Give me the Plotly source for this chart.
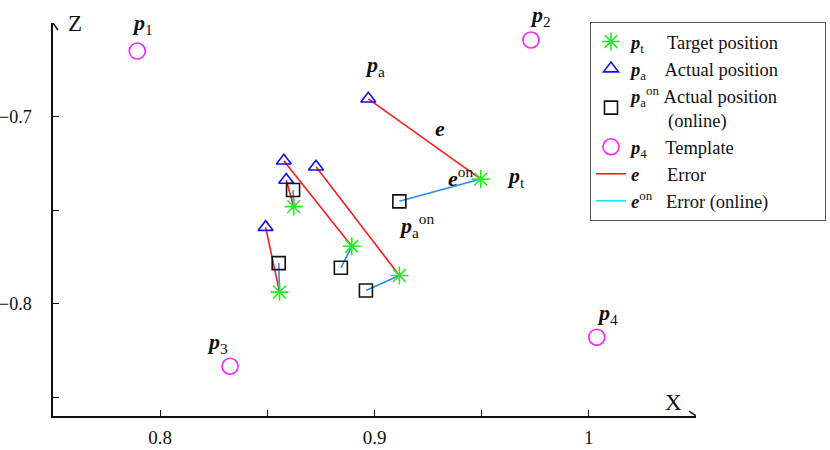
import plotly.graph_objects as go

# ---- data ----
target_x = [0.9496, 0.8894, 0.9116, 0.8623, 0.8557]
target_z = [-0.7334, -0.7693, -0.7849, -0.7481, -0.7938]
actual_x = [0.8971, 0.8577, 0.8727, 0.8588, 0.8492]
actual_z = [-0.6905, -0.7236, -0.7268, -0.7339, -0.7591]
online_x = [0.9116, 0.8843, 0.8960, 0.8620, 0.8553]
online_z = [-0.7453, -0.7808, -0.7929, -0.7392, -0.7783]
template_x = [0.7893, 0.9730, 0.8326, 1.0037]
template_z = [-0.6650, -0.6591, -0.8334, -0.8179]
template_labels = ["1", "2", "3", "4"]

x_tickvals = [0.8, 0.85, 0.9, 0.95, 1.0]
x_ticktext = ["0.8", "", "0.9", "", "1"]
z_tickvals = [-0.7, -0.75, -0.8, -0.85]
z_ticktext = ["\u22120.7", "", "\u22120.8", ""]
x_range = [0.75, 1.05]
z_range = [-0.86, -0.65]

FONT = "Liberation Serif"
NB = "&nbsp;"

W, H = 830, 450


def segs(ax, az, bx, bz):
    xs, zs = [], []
    for a, b, c, d in zip(ax, az, bx, bz):
        xs += [a, c, None]
        zs += [b, d, None]
    return xs, zs


fig = go.Figure()

ex, ez = segs(actual_x, actual_z, target_x, target_z)
fig.add_trace(go.Scatter(x=ex, y=ez, mode="lines", line=dict(color="#f81c1c", width=1.6),
                         name="<b><i>e</i></b>" + NB * 6 + "Error", legendrank=5))
ox, oz = segs(online_x, online_z, target_x, target_z)
fig.add_trace(go.Scatter(x=ox, y=oz, mode="lines", line=dict(color="#2a8cf0", width=1.6),
                         showlegend=False, hoverinfo="skip"))
fig.add_trace(go.Scatter(x=[None], y=[None], mode="lines", line=dict(color="#18e6ff", width=1.6),
                         name="<b><i>e</i></b><sup>on</sup>" + NB * 3 + "Error (online)" + NB * 11,
                         legendrank=6))

fig.add_trace(go.Scatter(x=target_x, y=target_z, mode="markers",
                         marker=dict(symbol="asterisk-open", size=15, color="#22ee22",
                                     line=dict(color="#22ee22", width=1.6)),
                         name="<b><i>p</i></b><sub>t</sub>" + NB * 5 + "Target position",
                         legendrank=1))
fig.add_trace(go.Scatter(x=actual_x, y=actual_z, mode="markers",
                         marker=dict(symbol="triangle-up-open", size=13, color="#1010ee",
                                     line=dict(color="#1010ee", width=1.6)),
                         name="<b><i>p</i></b><sub>a</sub>" + NB * 4 + "Actual position",
                         legendrank=2))
fig.add_trace(go.Scatter(x=online_x, y=online_z, mode="markers",
                         marker=dict(symbol="square-open", size=13, color="#111111",
                                     line=dict(color="#111111", width=1.6)),
                         name="<b><i>p</i></b><sub>a</sub><sup>on</sup>" + NB + "Actual position<br>"
                              + NB * 8 + "(online)",
                         legendrank=3))
fig.add_trace(go.Scatter(x=template_x, y=template_z, mode="markers",
                         marker=dict(symbol="circle-open", size=16, color="#ff22ff",
                                     line=dict(color="#ff22ff", width=1.6)),
                         name="<b><i>p</i></b><sub>4</sub>" + NB * 4 + "Template",
                         legendrank=4))

ann = []
lab = dict(family=FONT, size=22, color="#111111")
# template labels
shifts = [(5, 27), (10, 24), (-13, 23), (11, 23)]
for tx, tz, t, (sx, sy) in zip(template_x, template_z, template_labels, shifts):
    ann.append(dict(x=tx, y=tz, xref="x", yref="y", text="<b><i>p</i></b><sub>%s</sub>" % t,
                    showarrow=False, xshift=sx, yshift=sy, font=lab))
ann.append(dict(x=actual_x[0], y=actual_z[0], xref="x", yref="y", text="<b><i>p</i></b><sub>a</sub>",
                showarrow=False, xshift=7, yshift=33, font=lab))
ann.append(dict(x=target_x[0], y=target_z[0], xref="x", yref="y", text="<b><i>p</i></b><sub>t</sub>",
                showarrow=False, xshift=35, yshift=2, font=lab))
ann.append(dict(x=online_x[0], y=online_z[0], xref="x", yref="y",
                text="<b><i>p</i></b><sub>a</sub><sup>on</sup>",
                showarrow=False, xshift=18, yshift=-24, font=lab))
ann.append(dict(x=(actual_x[0] + target_x[0]) / 2, y=(actual_z[0] + target_z[0]) / 2, xref="x", yref="y",
                text="<b><i>e</i></b>", showarrow=False, xshift=15, yshift=10, font=lab))
ann.append(dict(x=(online_x[0] + target_x[0]) / 2, y=(online_z[0] + target_z[0]) / 2, xref="x", yref="y",
                text="<b><i>e</i></b><sup>on</sup>", showarrow=False, xshift=20, yshift=13, font=lab))
# axis names
ann.append(dict(x=x_range[1], y=z_range[0], xref="x", yref="y", text="X", showarrow=False,
                xshift=-23, yshift=14, font=dict(family=FONT, size=23, color="#111111")))
ann.append(dict(x=x_range[0], y=z_range[1], xref="x", yref="y", text="Z", showarrow=False,
                xshift=22, yshift=0, font=dict(family=FONT, size=23, color="#111111")))

shapes = [
    dict(type="path", xref="x", yref="y", xsizemode="pixel", ysizemode="pixel",
         xanchor=x_range[1], yanchor=z_range[0], path="M -7,5 L 0,0 L -7,-5",
         line=dict(color="#111111", width=1.5)),
    dict(type="path", xref="x", yref="y", xsizemode="pixel", ysizemode="pixel",
         xanchor=x_range[0], yanchor=z_range[1], path="M -5,-7 L 0,0 L 5,-7",
         line=dict(color="#111111", width=1.5)),
]

fig.update_layout(
    width=W, height=H,
    margin=dict(l=53, r=134, t=23, b=34, autoexpand=False),
    plot_bgcolor="white", paper_bgcolor="white",
    font=dict(family=FONT, size=16, color="#111111"),
    annotations=ann, shapes=shapes,
    legend=dict(xref="container", yref="container", x=590 / W, y=1 - 22 / H,
                xanchor="left", yanchor="top",
                bordercolor="#555555", borderwidth=1, bgcolor="white",
                font=dict(family=FONT, size=18.5, color="#111111"),
                itemwidth=30),
    showlegend=True,
)
fig.update_xaxes(range=x_range, showgrid=False, zeroline=False, showline=True, automargin=False,
                 linecolor="#111111", linewidth=1.5, ticks="inside", ticklen=6,
                 tickcolor="#111111", tickwidth=1.2, tickvals=x_tickvals, ticktext=x_ticktext,
                 tickfont=dict(family=FONT, size=19, color="#111111"), ticklabelstandoff=3)
fig.update_yaxes(range=z_range, showgrid=False, zeroline=False, showline=True, automargin=False,
                 linecolor="#111111", linewidth=1.5, ticks="inside", ticklen=6,
                 tickcolor="#111111", tickwidth=1.2, tickvals=z_tickvals, ticktext=z_ticktext,
                 tickfont=dict(family=FONT, size=18, color="#111111"), ticklabelstandoff=16)

# the page body default margin (8px) would push the 830x450 figure out of the window
fig.write_html("out.html", config={"displayModeBar": False},
               post_script="document.body.style.margin='0px';")
